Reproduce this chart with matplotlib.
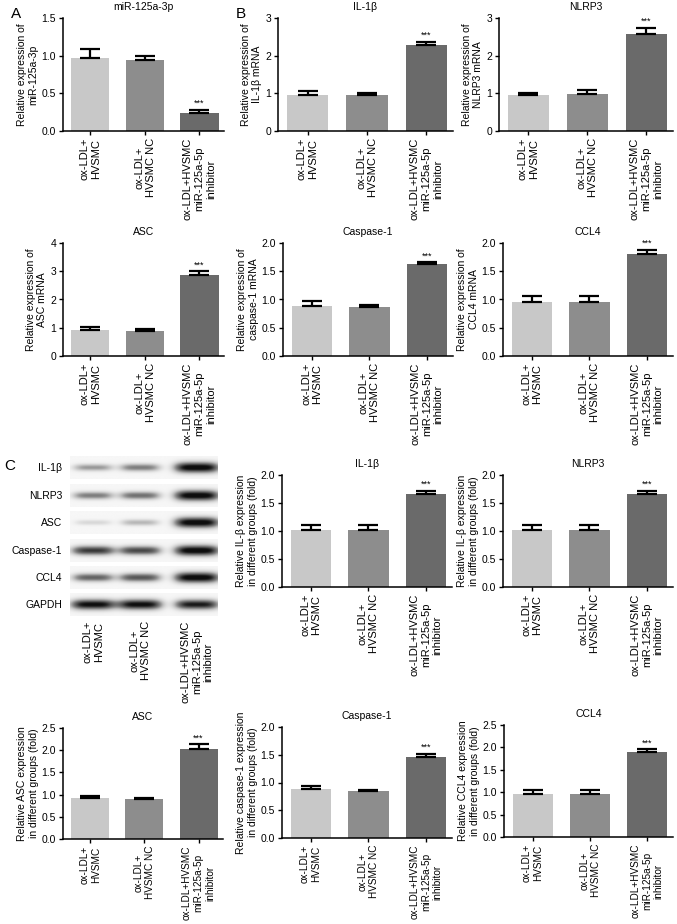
import numpy as np
import matplotlib
matplotlib.use("Agg")
import matplotlib.pyplot as plt

plt.rcParams["font.family"] = ["Liberation Sans", "DejaVu Sans"]

GROUPS = ["ox-LDL+\nHVSMC", "ox-LDL+\nHVSMC NC", "ox-LDL+HVSMC\nmiR-125a-5p\ninhibitor"]
BAR_COLORS = ["#c8c8c8", "#8d8d8d", "#6a6a6a"]

# qPCR panels (A, B)
mir_mean = [0.97, 0.94, 0.24]
mir_err = [0.12, 0.06, 0.04]
il1b_mrna_mean = [0.95, 0.95, 2.27]
il1b_mrna_err = [0.12, 0.06, 0.10]
nlrp3_mrna_mean = [0.95, 0.97, 2.57]
nlrp3_mrna_err = [0.07, 0.13, 0.17]
asc_mrna_mean = [0.92, 0.90, 2.88]
asc_mrna_err = [0.10, 0.07, 0.13]
casp1_mrna_mean = [0.89, 0.86, 1.62]
casp1_mrna_err = [0.08, 0.04, 0.04]
ccl4_mrna_mean = [0.96, 0.96, 1.81]
ccl4_mrna_err = [0.11, 0.10, 0.07]

# western blot quantification (C)
il1b_prot_mean = [1.01, 1.01, 1.66]
il1b_prot_err = [0.10, 0.10, 0.06]
nlrp3_prot_mean = [1.01, 1.01, 1.66]
nlrp3_prot_err = [0.10, 0.10, 0.06]
asc_prot_mean = [0.92, 0.89, 2.02]
asc_prot_err = [0.05, 0.04, 0.11]
casp1_prot_mean = [0.89, 0.85, 1.46]
casp1_prot_err = [0.04, 0.02, 0.06]
ccl4_prot_mean = [0.97, 0.97, 1.89]
ccl4_prot_err = [0.09, 0.08, 0.07]

# blot band strength per lane (relative darkness)
BLOT_ROWS = ["IL-1β", "NLRP3", "ASC", "Caspase-1", "CCL4", "GAPDH"]
blot_il1b = [0.45, 0.55, 1.0]
blot_nlrp3 = [0.55, 0.6, 1.0]
blot_asc = [0.2, 0.35, 1.0]
blot_casp1 = [0.8, 0.75, 1.0]
blot_ccl4 = [0.65, 0.7, 1.0]
blot_gapdh = [0.95, 0.95, 0.9]
BLOT = [blot_il1b, blot_nlrp3, blot_asc, blot_casp1, blot_ccl4, blot_gapdh]

W, H = 677, 924
fig = plt.figure(figsize=(W / 100, H / 100), dpi=100)


def add_ax(left, top, right, bottom):
    return fig.add_axes([left / W, 1 - bottom / H, (right - left) / W, (bottom - top) / H])


def bar_panel(rect, mean, err, title, ylabel, ymax, step, fmt, xfs=8):
    ax = add_ax(*rect)
    x = np.arange(3)
    ax.bar(x, mean, width=0.7, color=BAR_COLORS, zorder=2)
    ax.errorbar(x, mean, yerr=[[0, 0, 0], err], fmt="none", ecolor="black",
                elinewidth=1.6, capsize=7, capthick=1.6, zorder=3)
    ax.text(2, mean[2] + err[2] + ymax * 0.015, "***", ha="center", va="bottom", fontsize=6.5)
    ax.set_xlim(-0.5, 2.45)
    ax.set_ylim(0, ymax)
    ticks = np.arange(0, ymax + step / 2, step)
    ax.set_yticks(ticks)
    ax.set_yticklabels([fmt.format(t) for t in ticks], fontsize=7.5)
    ax.set_xticks(x)
    ax.set_xticklabels(GROUPS, rotation=90, fontsize=xfs, ha="center", va="top",
                       multialignment="center")
    for s in ("top", "right"):
        ax.spines[s].set_visible(False)
    for s in ("left", "bottom"):
        ax.spines[s].set_linewidth(1.1)
    ax.tick_params(length=3, width=1, pad=2)
    ax.set_title(title, fontsize=7.5, pad=6)
    ax.set_ylabel(ylabel, fontsize=7.5, labelpad=2, multialignment="center")
    return ax


# overlay in pixel coordinates: letters and blot
ov = fig.add_axes([0, 0, 1, 1], zorder=-1)
ov.set_xlim(0, W)
ov.set_ylim(H, 0)
ov.axis("off")
ov.text(11, 14, "A", fontsize=11, va="center")
ov.text(236, 14, "B", fontsize=11, va="center")
ov.text(4, 466, "C", fontsize=11, va="center")

lane_x = [93, 140, 197]
x0, x1 = 70, 218
row_y = [468, 496, 523, 551, 578, 605]
for name, yc, inten in zip(BLOT_ROWS, row_y, BLOT):
    y0, y1 = yc - 11.5, yc + 11.5
    xs = np.linspace(x0, x1, 300)
    ys = np.linspace(y0, y1, 50)
    X, Y = np.meshgrid(xs, ys)
    img = np.full_like(X, 0.07)
    for xc, v in zip(lane_x, inten):
        hw = 18 + 5 * v
        sy = 2.2 + 3.4 * v
        img += v * np.exp(-np.abs((X - xc) / hw) ** 4) * np.exp(-((Y - yc) / sy) ** 2)
    ov.imshow(np.clip(img, 0, 1), extent=(x0, x1, y1, y0), cmap="Greys",
              vmin=0, vmax=1.05, aspect="auto", interpolation="bilinear")
    ov.text(62, yc, name, ha="right", va="center", fontsize=7.5)
for xc, lab in zip(lane_x, GROUPS):
    ov.text(xc, 621, lab, rotation=90, ha="center", va="top", fontsize=8,
            multialignment="center")

bar_panel((63, 18, 224, 131), mir_mean, mir_err, "miR-125a-3p",
          "Relative expression of\nmiR-125a-3p", 1.5, 0.5, "{:.1f}")
bar_panel((278, 18, 453, 131), il1b_mrna_mean, il1b_mrna_err, "IL-1β",
          "Relative expression of\nIL-1β mRNA", 3, 1, "{:.0f}")
bar_panel((499, 18, 673, 131), nlrp3_mrna_mean, nlrp3_mrna_err, "NLRP3",
          "Relative expression of\nNLRP3 mRNA", 3, 1, "{:.0f}")

bar_panel((63, 243, 224, 356), asc_mrna_mean, asc_mrna_err, "ASC",
          "Relative expression of\nASC mRNA", 4, 1, "{:.0f}")
bar_panel((283, 243, 453, 356), casp1_mrna_mean, casp1_mrna_err, "Caspase-1",
          "Relative expression of\ncaspase-1 mRNA", 2.0, 0.5, "{:.1f}")
bar_panel((503, 243, 673, 356), ccl4_mrna_mean, ccl4_mrna_err, "CCL4",
          "Relative expression of\nCCL4 mRNA", 2.0, 0.5, "{:.1f}")

bar_panel((282, 475, 452, 587), il1b_prot_mean, il1b_prot_err, "IL-1β",
          "Relative IL-β expression\nin different groups (fold)", 2.0, 0.5, "{:.1f}")
bar_panel((503, 475, 673, 587), nlrp3_prot_mean, nlrp3_prot_err, "NLRP3",
          "Relative IL-β expression\nin different groups (fold)", 2.0, 0.5, "{:.1f}")

bar_panel((63, 728, 223, 839), asc_prot_mean, asc_prot_err, "ASC",
          "Relative ASC expression\nin different groups (fold)", 2.5, 0.5, "{:.1f}", xfs=7.2)
bar_panel((282, 727, 452, 838), casp1_prot_mean, casp1_prot_err, "Caspase-1",
          "Relative caspase-1 expression\nin different groups (fold)", 2.0, 0.5, "{:.1f}", xfs=7.2)
bar_panel((504, 725, 673, 837), ccl4_prot_mean, ccl4_prot_err, "CCL4",
          "Relative CCL4 expression\nin different groups (fold)", 2.5, 0.5, "{:.1f}", xfs=7.2)

fig.savefig("out.png", dpi=100)
